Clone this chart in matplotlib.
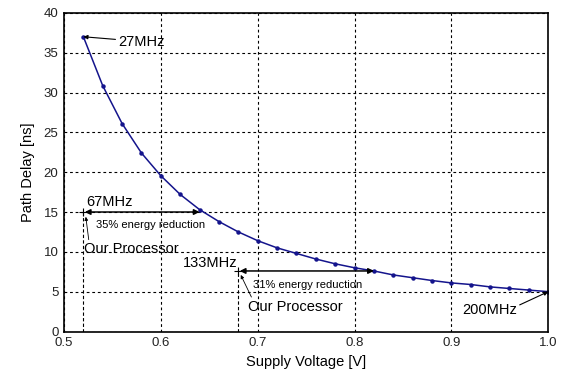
import matplotlib
matplotlib.use("Agg")
import matplotlib.pyplot as plt

# Data
voltage = [0.52, 0.54, 0.56, 0.58, 0.60, 0.62, 0.64, 0.66, 0.68, 0.70, 0.72, 0.74, 0.76,
           0.78, 0.80, 0.82, 0.84, 0.86, 0.88, 0.90, 0.92, 0.94, 0.96, 0.98, 1.00]
delay = [37.0, 30.85, 26.1, 22.4, 19.55, 17.2, 15.3, 13.8, 12.5, 11.4, 10.5, 9.8, 9.1,
         8.5, 8.0, 7.6, 7.1, 6.75, 6.4, 6.1, 5.9, 5.6, 5.4, 5.2, 5.0]

x_ticks = [0.5, 0.6, 0.7, 0.8, 0.9, 1.0]
y_ticks = [0, 5, 10, 15, 20, 25, 30, 35, 40]

# operating points: voltage, delay, voltage reached after scaling
proc1_v, proc1_d, proc1_target = 0.52, 15.0, 0.64
proc2_v, proc2_d, proc2_target = 0.68, 7.6, 0.82

plt.rcParams['font.family'] = ['Liberation Sans', 'DejaVu Sans']

fig = plt.figure(figsize=(5.65, 3.78), dpi=100)
ax = fig.add_axes([0.1133, 0.123, 0.857, 0.843])

ax.plot(voltage, delay, '-', color='#14148c', lw=1.1, marker='o', ms=2.2,
        mfc='#14148c', mec='#14148c')

ax.set_xlim(0.5, 1.0)
ax.set_ylim(0, 40)
ax.set_xticks(x_ticks)
ax.set_xticklabels(['0.5', '0.6', '0.7', '0.8', '0.9', '1.0'])
ax.set_yticks(y_ticks)
ax.tick_params(length=0, labelsize=9.5, pad=4, colors='#222222')
ax.grid(True, color='black', linestyle=(0, (2.5, 2.5)), linewidth=0.8)
for s in ax.spines.values():
    s.set_linewidth(1.2)

ax.set_xlabel('Supply Voltage [V]', fontsize=10.5, labelpad=4)
ax.set_ylabel('Path Delay [ns]', fontsize=10.5, labelpad=6)

big = 10.5

# frequency labels
ax.annotate('27MHz', xy=(voltage[0], delay[0]), xytext=(0.556, 36.4),
            fontsize=big, va='center',
            arrowprops=dict(arrowstyle='-|>', lw=0.8, color='black',
                            mutation_scale=6, shrinkA=0, shrinkB=0))
ax.annotate('200MHz', xy=(voltage[-1], delay[-1]), xytext=(0.911, 2.7),
            fontsize=big, va='center',
            arrowprops=dict(arrowstyle='-|>', lw=0.8, color='black',
                            mutation_scale=6, shrinkA=0, shrinkB=0,
                            relpos=(0.85, 0.5)))

# processor operating points
small = dict(fontsize=8, family=['Liberation Sans Narrow', 'Liberation Sans'],
             va='center')

ax.plot([proc1_v, proc1_v], [0, proc1_d + 0.3], color='black', lw=0.8,
        linestyle=(0, (3, 2)))
ax.plot([proc1_v], [proc1_d], marker='+', color='black', ms=6, mew=0.8)
ax.annotate('', xy=(proc1_target, proc1_d), xytext=(proc1_v, proc1_d),
            arrowprops=dict(arrowstyle='<|-|>', lw=1.1, color='black',
                            mutation_scale=8, shrinkA=1, shrinkB=0))
ax.text(0.523, 16.3, '67MHz', fontsize=big, va='center')
ax.text(0.533, 13.4, '35% energy reduction', **small)
ax.annotate('Our Processor', xy=(0.5225, 14.4), xytext=(0.521, 10.3),
            fontsize=big, va='center',
            arrowprops=dict(arrowstyle='-|>', lw=0.6, color='black',
                            mutation_scale=5, shrinkA=0, shrinkB=0,
                            relpos=(0.05, 1.0)))

ax.plot([proc2_v, proc2_v], [0, proc2_d + 0.3], color='black', lw=0.8,
        linestyle=(0, (3, 2)))
ax.plot([proc2_v], [proc2_d], marker='+', color='black', ms=6, mew=0.8)
ax.annotate('', xy=(proc2_target, proc2_d), xytext=(proc2_v, proc2_d),
            arrowprops=dict(arrowstyle='<|-|>', lw=1.1, color='black',
                            mutation_scale=8, shrinkA=1, shrinkB=0))
ax.text(0.679, 8.6, '133MHz', fontsize=big, va='center', ha='right')
ax.text(0.695, 5.9, '31% energy reduction', **small)
ax.annotate('Our Processor', xy=(0.6825, 7.1), xytext=(0.69, 3.1),
            fontsize=big, va='center',
            arrowprops=dict(arrowstyle='-|>', lw=0.6, color='black',
                            mutation_scale=5, shrinkA=0, shrinkB=0,
                            relpos=(0.05, 1.0)))

fig.savefig('out.png', dpi=100)
